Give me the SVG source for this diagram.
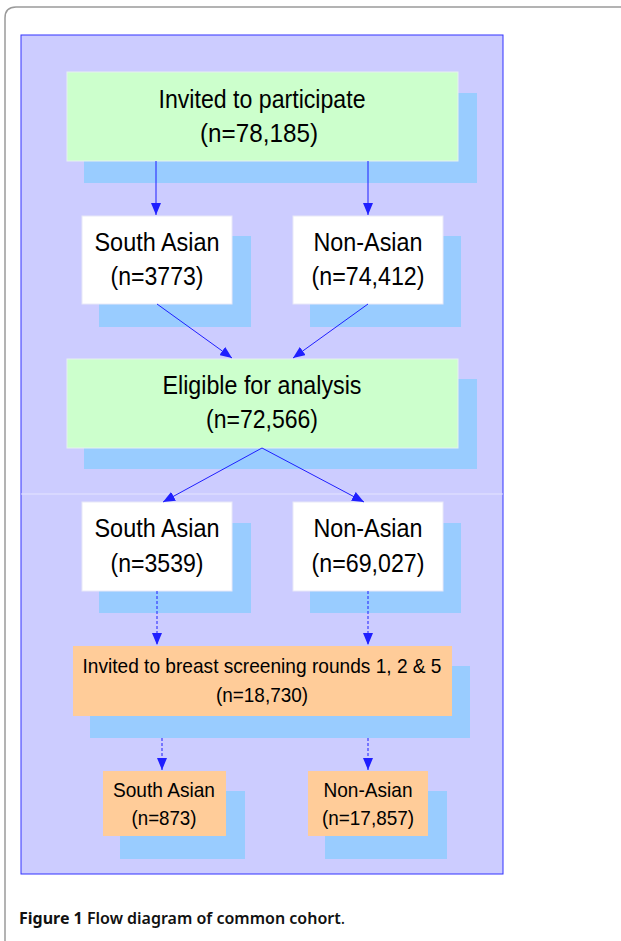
<svg xmlns="http://www.w3.org/2000/svg" width="621" height="941" viewBox="0 0 621 941">
<style>
.t{font-family:"Liberation Sans",Arial,sans-serif;fill:#000;text-anchor:middle}
.big{font-size:25px}
.sm{font-size:21px}
.cap{font-family:"Noto Sans","Open Sans",sans-serif;font-size:16px;fill:#111}
.sh{fill:#99ccff}
.green{fill:#ccffcc;stroke:#e6f0f0;stroke-width:1}
.white{fill:#ffffff;stroke:#e8e8f8;stroke-width:1}
.orange{fill:#ffcc99;stroke:none}
.c{stroke:#1f1fff;stroke-width:1;fill:none}
.d{stroke-dasharray:3,2}
</style>
<defs>
<marker id="ah" markerUnits="userSpaceOnUse" markerWidth="12" markerHeight="10" refX="12" refY="5" orient="auto">
<path d="M0,0 L12,5 L0,10 z" fill="#1f1fff"/>
</marker>
</defs>
<rect x="0" y="0" width="621" height="941" fill="#ffffff"/>
<path d="M5,941 L5,18 Q5,7 16,7 L621,7" fill="none" stroke="#9a9a9a" stroke-width="1.5"/>
<rect x="21" y="35" width="482" height="839" fill="#ccccff" stroke="#3333ff" stroke-width="1"/>
<line x1="21" y1="494" x2="503" y2="494" stroke="#e4e4ff" stroke-width="1"/>

<g id="invited">
<rect class="sh" x="84" y="93" width="393" height="90"/>
<rect class="green" x="67" y="72" width="391" height="89"/>
<text class="t big" x="262" y="108" textLength="207" lengthAdjust="spacingAndGlyphs">Invited to participate</text>
<text class="t big" x="259" y="142" textLength="118" lengthAdjust="spacingAndGlyphs">(n=78,185)</text>
</g>

<g id="south1">
<rect class="sh" x="99" y="236" width="152" height="91"/>
<rect class="white" x="82" y="216" width="150" height="88"/>
<text class="t big" x="157" y="251" textLength="125" lengthAdjust="spacingAndGlyphs">South Asian</text>
<text class="t big" x="157" y="285" textLength="93" lengthAdjust="spacingAndGlyphs">(n=3773)</text>
</g>

<g id="non1">
<rect class="sh" x="310" y="236" width="151" height="91"/>
<rect class="white" x="293" y="216" width="150" height="88"/>
<text class="t big" x="368" y="251" textLength="109" lengthAdjust="spacingAndGlyphs">Non-Asian</text>
<text class="t big" x="368" y="285" textLength="113" lengthAdjust="spacingAndGlyphs">(n=74,412)</text>
</g>

<g id="eligible">
<rect class="sh" x="84" y="379" width="393" height="90"/>
<rect class="green" x="67" y="359" width="391" height="89"/>
<text class="t big" x="262" y="394" textLength="199" lengthAdjust="spacingAndGlyphs">Eligible for analysis</text>
<text class="t big" x="262" y="428" textLength="112" lengthAdjust="spacingAndGlyphs">(n=72,566)</text>
</g>

<g id="south2">
<rect class="sh" x="99" y="523" width="152" height="90"/>
<rect class="white" x="82" y="502" width="150" height="89"/>
<text class="t big" x="157" y="537" textLength="125" lengthAdjust="spacingAndGlyphs">South Asian</text>
<text class="t big" x="157" y="572" textLength="93" lengthAdjust="spacingAndGlyphs">(n=3539)</text>
</g>

<g id="non2">
<rect class="sh" x="310" y="523" width="151" height="90"/>
<rect class="white" x="293" y="502" width="150" height="89"/>
<text class="t big" x="368" y="537" textLength="109" lengthAdjust="spacingAndGlyphs">Non-Asian</text>
<text class="t big" x="368" y="572" textLength="113" lengthAdjust="spacingAndGlyphs">(n=69,027)</text>
</g>

<g id="screening">
<rect class="sh" x="90" y="666" width="380" height="72"/>
<rect class="orange" x="73" y="646" width="379" height="70"/>
<text class="t sm" x="262" y="673" textLength="359" lengthAdjust="spacingAndGlyphs">Invited to breast screening rounds 1, 2 &amp; 5</text>
<text class="t sm" x="262" y="702" textLength="92" lengthAdjust="spacingAndGlyphs">(n=18,730)</text>
</g>

<g id="south3">
<rect class="sh" x="120" y="791" width="125" height="68"/>
<rect class="orange" x="103" y="771" width="123" height="65"/>
<text class="t sm" x="164" y="797" textLength="102" lengthAdjust="spacingAndGlyphs">South Asian</text>
<text class="t sm" x="164" y="825" textLength="65" lengthAdjust="spacingAndGlyphs">(n=873)</text>
</g>

<g id="non3">
<rect class="sh" x="325" y="791" width="122" height="68"/>
<rect class="orange" x="308" y="771" width="120" height="65"/>
<text class="t sm" x="368" y="797" textLength="89" lengthAdjust="spacingAndGlyphs">Non-Asian</text>
<text class="t sm" x="368" y="825" textLength="92" lengthAdjust="spacingAndGlyphs">(n=17,857)</text>
</g>

<g id="connectors">
<line class="c" x1="156" y1="161" x2="156" y2="215" marker-end="url(#ah)"/>
<line class="c" x1="368" y1="161" x2="368" y2="215" marker-end="url(#ah)"/>
<line class="c" x1="157" y1="304" x2="232" y2="358" marker-end="url(#ah)"/>
<line class="c" x1="368" y1="304" x2="293" y2="358" marker-end="url(#ah)"/>
<line class="c" x1="262" y1="448" x2="163" y2="502" marker-end="url(#ah)"/>
<line class="c" x1="262" y1="448" x2="364" y2="502" marker-end="url(#ah)"/>
<line class="c d" x1="157" y1="591" x2="157" y2="645" marker-end="url(#ah)"/>
<line class="c d" x1="368" y1="591" x2="368" y2="645" marker-end="url(#ah)"/>
<line class="c d" x1="162" y1="738" x2="162" y2="770" marker-end="url(#ah)"/>
<line class="c d" x1="368" y1="738" x2="368" y2="770" marker-end="url(#ah)"/>
</g>

<g id="caption">
<text class="cap" x="19" y="924"><tspan font-weight="700">Figure 1</tspan><tspan font-weight="600"> Flow diagram of common cohort</tspan><tspan font-weight="400">.</tspan></text>
</g>
</svg>
